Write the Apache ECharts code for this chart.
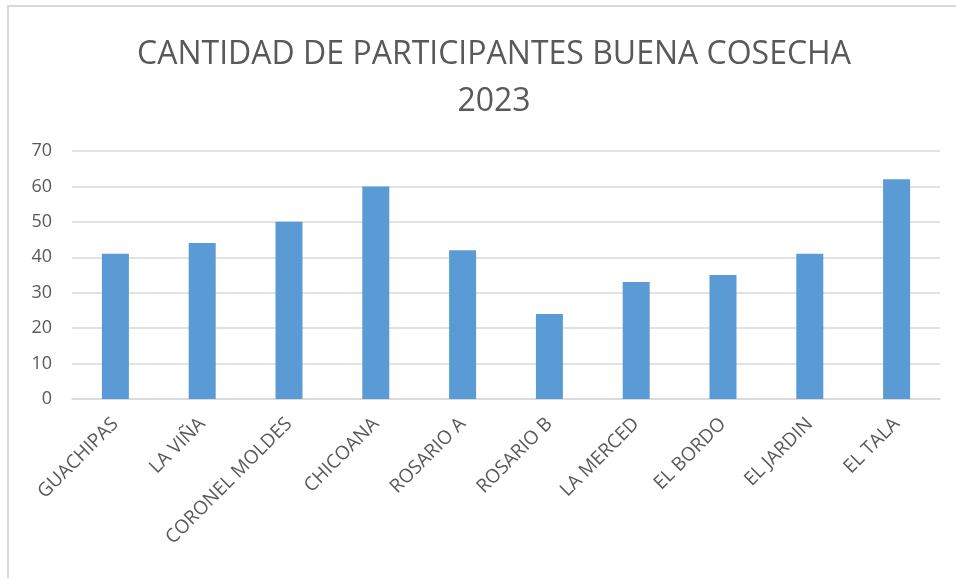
<!DOCTYPE html>
<html>
<head>
<meta charset="utf-8">
<script src="https://cdn.jsdelivr.net/npm/echarts@6/dist/echarts.min.js"></script>
<style>
  html, body { margin: 0; padding: 0; background: #fff; }
  #frame { position: absolute; left: 7px; top: 5px; width: 1000px; height: 700px; border: 2px solid #d9d9d9; }
  #main { position: absolute; left: 0; top: 0; width: 956px; height: 578px; }
</style>
</head>
<body>
<div id="frame"></div>
<div id="main"></div>
<script>
// datos del gráfico
const titulo = 'CANTIDAD DE PARTICIPANTES BUENA COSECHA\n2023';
const localidades = ['GUACHIPAS', 'LA VIÑA', 'CORONEL MOLDES', 'CHICOANA', 'ROSARIO A', 'ROSARIO B', 'LA MERCED', 'EL BORDO', 'EL JARDIN', 'EL TALA'];
const participantes = [41, 44, 50, 60, 42, 24, 33, 35, 41, 62];

const myChart = echarts.init(document.getElementById('main'));
const option = {
  backgroundColor: 'transparent',
  animation: false,
  textStyle: { fontFamily: 'Open Sans' },
  title: {
    text: titulo,
    left: 489,
    textAlign: 'center',
    top: 26,
    textStyle: { fontSize: 32, fontWeight: 'normal', color: '#595959', lineHeight: 47, fontFamily: 'Open Sans' }
  },
  grid: { left: 72, right: 16, top: 151, bottom: 179 },
  xAxis: {
    type: 'category',
    data: localidades,
    axisLine: { lineStyle: { color: '#d9d9d9', width: 1.5 } },
    axisTick: { show: false },
    axisLabel: { rotate: 45, color: '#595959', fontSize: 19, margin: 22, interval: 0 }
  },
  yAxis: {
    type: 'value',
    min: 0, max: 70, interval: 10,
    axisLine: { show: false },
    axisTick: { show: false },
    splitLine: { lineStyle: { color: '#d9d9d9', width: 1.5 } },
    axisLabel: { color: '#595959', fontSize: 18, margin: 20 }
  },
  series: [{
    type: 'bar',
    data: participantes,
    barWidth: 27,
    itemStyle: { color: '#5b9bd5' }
  }]
};
myChart.setOption(option);
</script>
</body>
</html>
